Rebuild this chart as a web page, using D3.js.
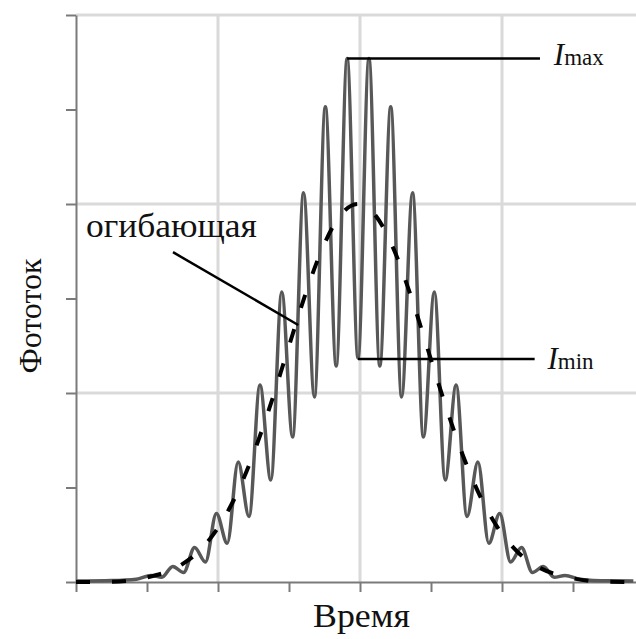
<!DOCTYPE html>
<html>
<head>
<meta charset="utf-8">
<script src="https://cdn.jsdelivr.net/npm/d3@7"></script>
<style>
body { margin: 0; background: #fff; }
svg { display: block; }
</style>
</head>
<body>
<script>
// photocurrent trace, values (axis units = tick steps)
var xTicks = [0, 1, 2, 3, 4, 5, 6, 7, 8]
var yTicks = [0, 1, 2, 3, 4, 5, 6]
var gridX = [2, 4, 6]
var gridY = [2, 4, 6]

// solid grey curve: tail points + every peak / trough
var signalT = [0, 0.5, 0.85, 1.056, 1.209, 1.363, 1.516, 1.670, 1.823, 1.977, 2.130, 2.284, 2.437,
               2.591, 2.744, 2.898, 3.051, 3.205, 3.358, 3.512, 3.665, 3.819, 3.972, 4.126,
               4.279, 4.433, 4.586, 4.740, 4.893, 5.047, 5.200, 5.354, 5.507, 5.661, 5.814,
               5.968, 6.121, 6.275, 6.428, 6.582, 6.735, 6.889, 7.1, 7.5, 7.85]
var signalI = [0.01, 0.015, 0.03, 0.07, 0.05, 0.165, 0.10, 0.365, 0.212, 0.725, 0.41, 1.27, 0.693,
               2.085, 1.079, 3.07, 1.534, 4.12, 1.958, 5.03, 2.286, 5.54, 2.37, 5.54,
               2.286, 5.03, 1.958, 4.12, 1.534, 3.07, 1.079, 2.085, 0.693, 1.27, 0.41,
               0.725, 0.212, 0.365, 0.10, 0.165, 0.05, 0.07, 0.03, 0.012, 0.01]

// dashed envelope
var envelopeT = [0, 0.5, 0.97, 1.47, 1.72, 1.97, 2.22, 2.47, 2.72, 2.97, 3.22, 3.47, 3.72, 3.97,
                 4.22, 4.47, 4.72, 4.97, 5.22, 5.47, 5.72, 5.97, 6.22, 6.47, 6.97, 7.47, 7.85]
var envelopeI = [0, 0.002, 0.044, 0.176, 0.318, 0.541, 0.865, 1.299, 1.831, 2.426, 3.019, 3.53, 3.877, 4.0,
                 3.877, 3.53, 3.019, 2.426, 1.831, 1.299, 0.865, 0.541, 0.318, 0.176, 0.044, 0.002, 0]

var imaxLevel = 5.54
var iminLevel = 2.36

var serif = "'Liberation Serif'"

var screen = {width: 636, height: 639}
var margins = {top: 15, bottom: 57, left: 76}

var xScale = d3.scaleLinear()
    .domain([0, 8])
    .range([margins.left, margins.left + 8 * 71])

var yScale = d3.scaleLinear()
    .domain([0, 6])
    .range([screen.height - margins.bottom, margins.top])

var svg = d3.select("body")
    .append("svg")
    .attr("width", screen.width)
    .attr("height", screen.height)

// grid
svg.append("g")
    .selectAll("line")
    .data(gridY)
    .enter()
    .append("line")
    .attr("x1", xScale(0))
    .attr("x2", screen.width)
    .attr("y1", function(d) { return yScale(d) })
    .attr("y2", function(d) { return yScale(d) })
    .attr("stroke", "#dadada")
    .attr("stroke-width", 3)

svg.append("g")
    .selectAll("line")
    .data(gridX)
    .enter()
    .append("line")
    .attr("x1", function(d) { return xScale(d) })
    .attr("x2", function(d) { return xScale(d) })
    .attr("y1", yScale(6))
    .attr("y2", yScale(0))
    .attr("stroke", "#dadada")
    .attr("stroke-width", 3)

// axes, no tick labels
var yAxis = d3.axisLeft(yScale).tickValues(yTicks).tickSize(10).tickSizeOuter(0).tickFormat("")
var xAxis = d3.axisBottom(xScale).tickValues(xTicks).tickSize(10).tickSizeOuter(0).tickFormat("")

svg.append("g")
    .attr("id", "yAxis")
    .attr("transform", "translate(" + xScale(0) + ",0)")
    .call(yAxis)

svg.append("g")
    .attr("id", "xAxis")
    .attr("transform", "translate(0," + yScale(0) + ")")
    .call(xAxis)

svg.selectAll("#xAxis path, #xAxis line, #yAxis path, #yAxis line")
    .attr("stroke", "#7a7a7a")
    .attr("stroke-width", 2)

// curves
var signal = signalT.map(function(t, i) { return {t: t, v: signalI[i]} })
var envelope = envelopeT.map(function(t, i) { return {t: t, v: envelopeI[i]} })

var line = d3.line()
    .x(function(d) { return xScale(d.t) })
    .y(function(d) { return yScale(d.v) })
    .curve(d3.curveMonotoneX)

svg.append("path")
    .datum(signal)
    .attr("d", line)
    .attr("fill", "none")
    .attr("stroke", "#585858")
    .attr("stroke-width", 3.5)

svg.append("path")
    .datum(envelope)
    .attr("d", line)
    .attr("fill", "none")
    .attr("stroke", "#000")
    .attr("stroke-width", 4)
    .attr("stroke-dasharray", "14,22")

// annotations
svg.append("line")
    .attr("x1", xScale(3.819)).attr("x2", xScale(6.535))
    .attr("y1", yScale(imaxLevel)).attr("y2", yScale(imaxLevel))
    .attr("stroke", "#000").attr("stroke-width", 2.5)

svg.append("line")
    .attr("x1", xScale(3.972)).attr("x2", xScale(6.46))
    .attr("y1", yScale(iminLevel)).attr("y2", yScale(iminLevel))
    .attr("stroke", "#000").attr("stroke-width", 2.5)

svg.append("line")
    .attr("x1", xScale(1.366)).attr("y1", yScale(3.49))
    .attr("x2", xScale(3.13)).attr("y2", yScale(2.72))
    .attr("stroke", "#000").attr("stroke-width", 2.5)

svg.append("text")
    .attr("x", xScale(0.14))
    .attr("y", yScale(3.65))
    .style("font-family", serif)
    .style("font-size", "33px")
    .attr("textLength", 171)
    .attr("lengthAdjust", "spacingAndGlyphs")
    .attr("fill", "#111")
    .text("огибающая")

var imax = svg.append("text")
    .attr("x", xScale(6.73))
    .attr("y", yScale(5.47))
    .style("font-family", serif)
    .attr("fill", "#111")
imax.append("tspan").style("font-size", "31px").style("font-style", "italic").text("I")
imax.append("tspan").style("font-size", "23px").text("max")

var imin = svg.append("text")
    .attr("x", xScale(6.64))
    .attr("y", yScale(2.25))
    .style("font-family", serif)
    .attr("fill", "#111")
imin.append("tspan").style("font-size", "31px").style("font-style", "italic").text("I")
imin.append("tspan").style("font-size", "23px").text("min")

svg.append("text")
    .attr("x", 313)
    .attr("y", 627)
    .style("font-family", serif)
    .style("font-size", "34px")
    .attr("textLength", 97)
    .attr("lengthAdjust", "spacingAndGlyphs")
    .attr("fill", "#111")
    .text("Время")

svg.append("text")
    .attr("transform", "translate(41," + 316 + ") rotate(-90)")
    .attr("text-anchor", "middle")
    .style("font-family", serif)
    .style("font-size", "32px")
    .attr("fill", "#111")
    .text("Фототок")
</script>
</body>
</html>
